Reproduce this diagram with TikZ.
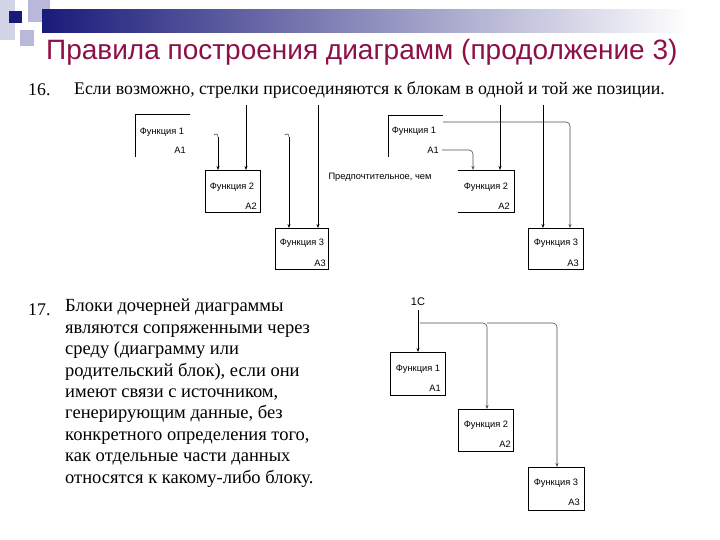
\documentclass[tikz,border=0pt]{standalone}
\usepackage{fontspec}
\setmainfont{Liberation Serif}
\newfontfamily\sansf{Liberation Sans}
\usetikzlibrary{arrows.meta,shadings}
\definecolor{titlec}{HTML}{8E1048}
\definecolor{navy}{HTML}{1A1A7A}
\definecolor{lav}{HTML}{B8B8D8}
\begin{document}
\begin{tikzpicture}[x=1pt,y=-1pt,
  lbl/.style={font=\sansf\fontsize{9.3}{10}\selectfont,inner sep=0pt},
  fbox/.style={draw,line width=0.5pt},
  conn/.style={draw,line width=0.6pt,-{Stealth[length=4pt,width=3pt]},rounded corners=4pt},
  body/.style={font=\fontsize{17.8}{20}\selectfont,inner sep=0pt,anchor=west}]
\useasboundingbox (0,0) rectangle (720,540);
% decoration
\fill[lav!60] (0,0) rectangle (15,40);
\fill[lav] (28,0) rectangle (50,22);
\fill[lav] (20,30) rectangle (34,46);
\fill[navy] (9,11) rectangle (22,23);
\shade[left color=navy,right color=white] (42,10) rectangle (690,33);
\node[font=\sansf\fontsize{28}{30}\selectfont,text=titlec,anchor=west,inner sep=0pt] (title) at (46,52) {Правила построения диаграмм (продолжение 3)};
% 16
\node[body] (n16) at (28,90) {16.};
\node[body] (t16) at (74,90) {Если возможно, стрелки присоединяются к блокам в одной и той же позиции.};
% top-left diagram
\draw[fbox] (135,157) -- (135,114) -- (190,114);
\node[lbl] (f1a) at (162,132) {Функция 1};
\node[lbl] (a1a) at (180,150) {A1};
\node[fbox,minimum width=55pt,minimum height=42pt,anchor=north west] (f2a) at (205,170) {};
\node[lbl] (f2al) at (232,187) {Функция 2};
\node[lbl] (a2al) at (251,206) {A2};
\node[fbox,minimum width=53pt,minimum height=41pt,anchor=north west] (f3a) at (275,228) {};
\node[lbl] (f3al) at (302,243) {Функция 3};
\node[lbl] (a3al) at (320,263) {A3};
\coordinate (c1) at (218,137); \coordinate (c2) at (246,105);
\coordinate (c3) at (289,137); \coordinate (c4) at (318,105);
\draw[line width=0.4pt] (214,135) .. controls (216,133) and (218,134) .. (c1);
\draw[line width=0.4pt] (285,135) .. controls (287,133) and (289,134) .. (c3);
\draw[conn] (c1) -- (c1 |- f2a.north);
\draw[conn] (c2) -- (c2 |- f2a.north);
\draw[conn] (c3) -- (c3 |- f3a.north);
\draw[conn] (c4) -- (c4 |- f3a.north);
\node[lbl] (pref) at (380,177) {Предпочтительное, чем};
% top-right diagram
\draw[fbox] (388,157) -- (388,115) -- (443,115);
\node[lbl] (f1b) at (414,131) {Функция 1};
\node[lbl] (a1b) at (433,150) {A1};
\draw[fbox] (458,170) -- (514,170) -- (514,212) -- (458,212);
\node[lbl] (f2bl) at (486,187) {Функция 2};
\node[lbl] (a2bl) at (504,206) {A2};
\node[fbox,minimum width=55pt,minimum height=41pt,anchor=north west] (f3b) at (528,228) {};
\node[lbl] (f3bl) at (556,243) {Функция 3};
\node[lbl] (a3bl) at (573,263) {A3};
\draw[conn,draw=black!70] (a1b.east) ++(3,0) -- (473,150) -- (473,170);
\draw[conn] (500,105) -- (500,170);
\draw[conn] (543,105) -- (543,228);
\draw[conn,draw=black!70] (443,122) -- (570,122) -- (570,228);
% 17
\node[body] (n17) at (28,310) {17.};
\node[body,align=left,anchor=north west,font=\fontsize{18.5}{21.4}\selectfont] (t17) at (65,299) {Блоки дочерней диаграммы\\являются сопряженными через\\среду (диаграмму или\\родительский блок), если они\\имеют связи с источником,\\генерирующим данные, без\\конкретного определения того,\\как отдельные части данных\\относятся к какому-либо блоку.};
% bottom diagram
\node[lbl,font=\sansf\fontsize{11}{12}\selectfont] (src) at (418,302) {1C};
\node[fbox,minimum width=55pt,minimum height=43pt,anchor=north west] (g1) at (390,352) {};
\node[lbl] (g1l) at (418,369) {Функция 1};
\node[lbl] (g1a) at (435,388) {A1};
\node[fbox,minimum width=55pt,minimum height=42pt,anchor=north west] (g2) at (458,409) {};
\node[lbl] (g2l) at (486,425) {Функция 2};
\node[lbl] (g2a) at (505,444) {A2};
\node[fbox,minimum width=56pt,minimum height=43pt,anchor=north west] (g3) at (528,467) {};
\node[lbl] (g3l) at (556,483) {Функция 3};
\node[lbl] (g3a) at (574,502) {A3};
\draw[conn] (418,310) -- (418,352);
\draw[conn,draw=black!70] (420,323) -- (487,323) -- (487,409);
\draw[conn,draw=black!70] (487,323) -- (557,323) -- (557,467);
\end{tikzpicture}
\end{document}
